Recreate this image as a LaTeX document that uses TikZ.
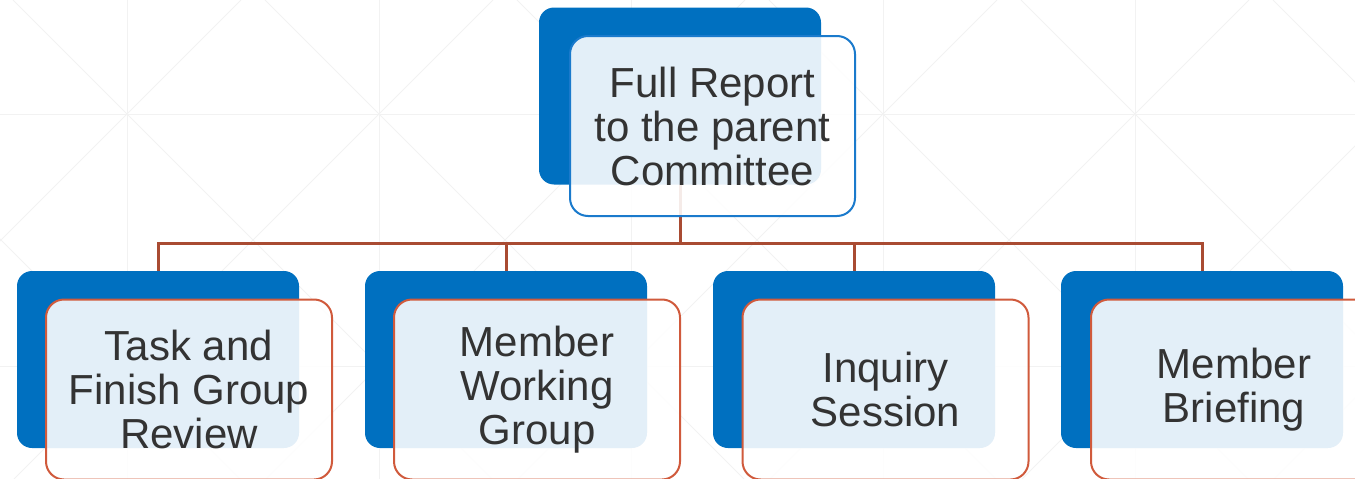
\documentclass[tikz,border=0pt]{standalone}
\usepackage{fontspec}
\setmainfont{Liberation Sans}
\usepackage{tikz}
\usetikzlibrary{positioning, calc}
\usepackage{xcolor}
\definecolor{backcolor}{RGB}{0,112,192}
\definecolor{topedge}{RGB}{26,122,204}
\definecolor{childedge}{RGB}{208,90,60}
\definecolor{linkcolor}{RGB}{169,75,50}
\definecolor{textcolor}{RGB}{51,51,51}
\definecolor{gridcolor}{RGB}{242,242,242}

\begin{document}
\begin{tikzpicture}[
    x=1pt, y=-1pt,
    backbox/.style={rectangle, fill=backcolor, rounded corners=15pt, minimum width=282pt, minimum height=177pt, inner sep=0pt},
    frontbox/.style={rectangle, draw, line width=2pt, fill=white, fill opacity=0.89, text opacity=1, rounded corners=18pt, minimum width=286pt, minimum height=180pt, inner sep=0pt, align=center, text=textcolor, font=\fontsize{42}{44}\selectfont},
    link/.style={draw=linkcolor, line width=3pt}
]
\useasboundingbox (0,0) rectangle (1355,479);
% background lattice
\begin{scope}
\clip (0,0) rectangle (1355,479);
\foreach \gx in {127,379,631,883,1135}
  \draw[gridcolor, line width=1pt] (\gx,0) -- (\gx,479);
\foreach \gy in {114,366}
  \draw[gridcolor, line width=1pt] (0,\gy) -- (1355,\gy);
\foreach \k in {-2,...,5}
  \draw[gridcolor, line width=1pt] (13+252*\k,0) -- ++(479,479);
\foreach \k in {-1,...,6}
  \draw[gridcolor, line width=1pt] (241+252*\k,0) -- ++(-479,479);
\end{scope}

% back boxes
\node[backbox] (fullback) at (680,96) {};
\node[backbox] (taskback) at (158,359.5) {};
\node[backbox] (workback) at (506,359.5) {};
\node[backbox] (inqback) at (854,359.5) {};
\node[backbox] (briefback) at (1202,359.5) {};

% connectors
\coordinate (bus) at (680,243);
\draw[link] (fullback.south) -- (bus);
\draw[link] (bus) -| (taskback.north);
\draw[link] (bus) -| (workback.north);
\draw[link] (bus) -| (inqback.north);
\draw[link] (bus) -| (briefback.north);

% front boxes
\node[frontbox, draw=topedge, minimum width=285pt] (full) at (712.5,126) {Full Report\\to the parent\\Committee};
\node[frontbox, draw=childedge] (task) at (189,389.5) {Task and\\Finish Group\\Review};
\node[frontbox, draw=childedge] (work) at (537,389.5) {Member\\Working\\Group};
\node[frontbox, draw=childedge] (inq) at (885.5,389.5) {Inquiry\\Session};
\node[frontbox, draw=childedge] (brief) at (1234,389.5) {Member\\Briefing};
\end{tikzpicture}
\end{document}
